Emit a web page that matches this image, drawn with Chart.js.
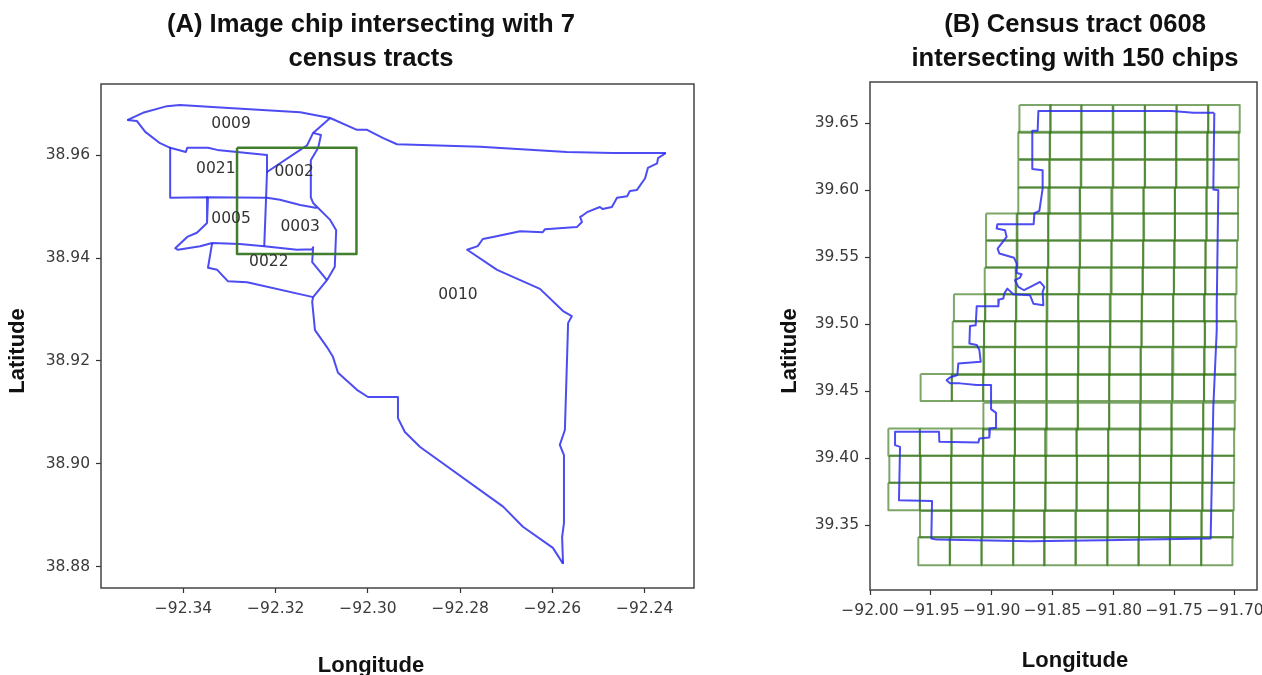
<!DOCTYPE html>
<html>
<head>
<meta charset="utf-8">
<title>Census tracts and image chips</title>
<script src="https://cdn.jsdelivr.net/npm/chart.js@4"></script>
<style>
  html, body { margin: 0; padding: 0; background: #fff; overflow: hidden; }
  .panel { position: absolute; top: 0; height: 675px; filter: blur(0.4px); }
  #panelA { left: 0; width: 735px; }
  #panelB { left: 735px; width: 527px; }
</style>
</head>
<body>
<div class="panel" id="panelA"><canvas id="chartA"></canvas></div>
<div class="panel" id="panelB"><canvas id="chartB"></canvas></div>
<script>
// Panel A: tract boundaries as [lon, lat]
const topEdge = [[-92.3522,38.9668],[-92.3488,38.9682],[-92.3436,38.9695],[-92.3408,38.9697],[-92.3293,38.9691],[-92.3147,38.9683],[-92.3082,38.9672],[-92.3024,38.9649],[-92.3002,38.9649],[-92.2967,38.9633],[-92.2937,38.9621],[-92.2757,38.9616],[-92.2569,38.9606],[-92.2469,38.9604],[-92.2354,38.9604]];
const eastCoast = [[-92.2354,38.9604],[-92.2371,38.9594],[-92.2373,38.9584],[-92.2393,38.9575],[-92.2399,38.9555],[-92.2417,38.9532],[-92.2432,38.9530],[-92.2438,38.9520],[-92.2460,38.9517],[-92.2471,38.9499],[-92.2491,38.9495],[-92.2497,38.9499],[-92.2525,38.9489],[-92.2534,38.9483],[-92.2540,38.9480],[-92.2536,38.9470],[-92.2547,38.9460],[-92.2616,38.9456],[-92.2621,38.9450],[-92.2670,38.9452],[-92.2729,38.9441],[-92.2751,38.9437],[-92.2762,38.9423],[-92.2785,38.9416],[-92.2720,38.9377],[-92.2627,38.9340],[-92.2577,38.9297],[-92.2558,38.9287],[-92.2566,38.9274],[-92.2573,38.9066],[-92.2584,38.9037],[-92.2575,38.9017],[-92.2575,38.8885],[-92.2579,38.8858],[-92.2577,38.8806]];
const southEdge = [[-92.2577,38.8806],[-92.2599,38.8837],[-92.2664,38.8878],[-92.2707,38.8917],[-92.2887,38.9033],[-92.2920,38.9062],[-92.2935,38.9089],[-92.2935,38.9130],[-92.3000,38.9130],[-92.3024,38.9144],[-92.3065,38.9177],[-92.3076,38.9208],[-92.3089,38.9227],[-92.3115,38.9260],[-92.3121,38.9315],[-92.3119,38.9324]];
const westOf0010 = [[-92.3119,38.9324],[-92.3089,38.9357],[-92.3072,38.9383],[-92.3069,38.9454],[-92.3082,38.9474],[-92.3119,38.9507],[-92.3124,38.9518],[-92.3124,38.9590],[-92.3108,38.9614],[-92.3102,38.9639],[-92.3119,38.9643],[-92.3132,38.9619],[-92.3147,38.9610],[-92.3219,38.9567]];
const northLink = [[-92.3082,38.9672],[-92.3119,38.9643]];
const south0009 = [[-92.3522,38.9668],[-92.3501,38.9666],[-92.3483,38.9645],[-92.3451,38.9623],[-92.3429,38.9614],[-92.3395,38.9606],[-92.3392,38.9614],[-92.3347,38.9614],[-92.3327,38.9610],[-92.3284,38.9606],[-92.3219,38.9600],[-92.3219,38.9567]];
const edge0021 = [[-92.3429,38.9614],[-92.3429,38.9517],[-92.3349,38.9518],[-92.3219,38.9517],[-92.3191,38.9513],[-92.3147,38.9503],[-92.3111,38.9497]];
const centerLine = [[-92.3219,38.9567],[-92.3221,38.9517],[-92.3225,38.9423]];
const edge0005 = [[-92.3347,38.9518],[-92.3349,38.9468],[-92.3371,38.9449],[-92.3392,38.9441],[-92.3418,38.9419],[-92.3412,38.9416],[-92.3364,38.9423],[-92.3338,38.9429],[-92.3278,38.9427],[-92.3225,38.9423],[-92.3154,38.9416],[-92.3121,38.9417],[-92.3119,38.9421],[-92.3121,38.9392],[-92.3089,38.9357]];
const edge0022 = [[-92.3338,38.9429],[-92.3347,38.9381],[-92.3327,38.9377],[-92.3304,38.9355],[-92.3262,38.9353],[-92.3119,38.9324]];
const tractLinesA = [topEdge, eastCoast, southEdge, westOf0010, northLink, south0009, edge0021, centerLine, edge0005, edge0022];

const chipA = [[-92.3284,38.9614],[-92.3025,38.9614],[-92.3025,38.9408],[-92.3284,38.9408],[-92.3284,38.9614]];

const tractNames = ["0009", "0021", "0002", "0005", "0003", "0022", "0010"];
const tractNameLon = [-92.3297, -92.3330, -92.3160, -92.3297, -92.3147, -92.3215, -92.2805];
const tractNameLat = [38.9660, 38.9573, 38.9567, 38.9476, 38.9460, 38.9392, 38.9328];

const xTicksA = [-92.34, -92.32, -92.30, -92.28, -92.26, -92.24];
const yTicksA = [38.88, 38.90, 38.92, 38.94, 38.96];

// Panel B: tract 0608 boundary
const tract0608 = [[-91.7172,39.6577],[-91.7342,39.6577],[-91.7520,39.6589],[-91.7972,39.6589],[-91.8616,39.6589],[-91.8622,39.6442],[-91.8666,39.6442],[-91.8666,39.6156],[-91.8581,39.6148],[-91.8581,39.6011],[-91.8608,39.5845],[-91.8649,39.5825],[-91.8655,39.5745],[-91.8953,39.5745],[-91.8959,39.5713],[-91.8890,39.5700],[-91.8877,39.5650],[-91.8951,39.5563],[-91.8937,39.5526],[-91.8816,39.5494],[-91.8794,39.5451],[-91.8794,39.5381],[-91.8753,39.5372],[-91.8767,39.5347],[-91.8808,39.5327],[-91.8781,39.5277],[-91.8734,39.5252],[-91.8657,39.5289],[-91.8603,39.5314],[-91.8567,39.5277],[-91.8581,39.5240],[-91.8575,39.5140],[-91.8657,39.5152],[-91.8685,39.5215],[-91.8822,39.5222],[-91.8871,39.5264],[-91.8896,39.5227],[-91.8904,39.5190],[-91.8940,39.5182],[-91.8945,39.5132],[-91.9123,39.5132],[-91.9131,39.4991],[-91.9178,39.4986],[-91.9183,39.4855],[-91.9123,39.4843],[-91.9101,39.4806],[-91.9090,39.4718],[-91.9274,39.4706],[-91.9282,39.4619],[-91.9342,39.4601],[-91.9370,39.4581],[-91.9342,39.4557],[-91.9260,39.4557],[-91.9123,39.4544],[-91.9005,39.4544],[-91.9005,39.4365],[-91.8964,39.4337],[-91.8964,39.4225],[-91.9014,39.4220],[-91.9019,39.4153],[-91.9101,39.4146],[-91.9109,39.4116],[-91.9430,39.4121],[-91.9433,39.4196],[-91.9794,39.4196],[-91.9794,39.4096],[-91.9753,39.4083],[-91.9762,39.3685],[-91.9490,39.3680],[-91.9496,39.3399],[-91.9452,39.3391],[-91.8685,39.3379],[-91.8082,39.3386],[-91.7200,39.3399],[-91.7178,39.4382],[-91.7150,39.4955],[-91.7150,39.5127],[-91.7137,39.5999],[-91.7178,39.6004],[-91.7170,39.6577]];

// West edge of each chip, one row per line, north to south
const chipWest = [
  [-91.8772,-91.8520,-91.8263,-91.8000,-91.7739,-91.7479,-91.7219],
  [-91.8781,-91.8520,-91.8263,-91.8000,-91.7739,-91.7485,-91.7227],
  [-91.8781,-91.8526,-91.8263,-91.8000,-91.7739,-91.7485,-91.7227],
  [-91.8781,-91.8534,-91.8274,-91.8008,-91.7753,-91.7493,-91.7233],
  [-91.9046,-91.8794,-91.8534,-91.8268,-91.8005,-91.7753,-91.7493,-91.7233],
  [-91.9046,-91.8794,-91.8534,-91.8274,-91.8014,-91.7753,-91.7501,-91.7241],
  [-91.9057,-91.8803,-91.8542,-91.8279,-91.8014,-91.7761,-91.7501,-91.7246],
  [-91.9310,-91.9055,-91.8800,-91.8548,-91.8287,-91.8022,-91.7767,-91.7507,-91.7255],
  [-91.9320,-91.9063,-91.8808,-91.8548,-91.8282,-91.8027,-91.7767,-91.7507,-91.7246],
  [-91.9320,-91.9068,-91.8808,-91.8548,-91.8287,-91.8033,-91.7775,-91.7507,-91.7255],
  [-91.9584,-91.9329,-91.9068,-91.8808,-91.8548,-91.8293,-91.8033,-91.7775,-91.7512,-91.7255],
  [-91.9068,-91.8808,-91.8548,-91.8293,-91.8033,-91.7781,-91.7520,-91.7260],
  [-91.9849,-91.9589,-91.9329,-91.9068,-91.8808,-91.8561,-91.8301,-91.8041,-91.7781,-91.7520,-91.7265],
  [-91.9841,-91.9589,-91.9334,-91.9074,-91.8814,-91.8556,-91.8301,-91.8041,-91.7781,-91.7526,-91.7265],
  [-91.9849,-91.9589,-91.9334,-91.9074,-91.8814,-91.8561,-91.8301,-91.8046,-91.7786,-91.7526,-91.7268],
  [-91.9589,-91.9334,-91.9077,-91.8822,-91.8570,-91.8307,-91.8046,-91.7789,-91.7534,-91.7274],
  [-91.9603,-91.9342,-91.9082,-91.8822,-91.8570,-91.8307,-91.8049,-91.7794,-91.7534,-91.7279]
];
const chipNorth = [39.6634,39.6435,39.6223,39.6019,39.5825,39.5621,39.5421,39.5222,39.5020,39.4826,39.4626,39.4412,39.4220,39.4016,39.3815,39.3605,39.3411];
const chipSouth = [39.6427,39.6231,39.6019,39.5825,39.5625,39.5421,39.5222,39.5020,39.4830,39.4619,39.4425,39.4213,39.4016,39.3815,39.3610,39.3406,39.3200];
const chipLonWidth = 0.0258;

const xTicksB = [-92.00, -91.95, -91.90, -91.85, -91.80, -91.75, -91.70];
const yTicksB = [39.35, 39.40, 39.45, 39.50, 39.55, 39.60, 39.65];

const titleA = ["(A) Image chip intersecting with 7", "census tracts"];
const titleB = ["(B) Census tract 0608", "intersecting with 150 chips"];
const xLabel = "Longitude";
const yLabel = "Latitude";

const BLUE = "rgba(45,45,240,0.85)";
const GREEN = "rgba(55,120,25,0.65)";
const TICK_COLOR = "#3a3a3a";
const minus = "\u2212";

function toPoints(line) {
  return line.map(p => ({ x: p[0], y: p[1] }));
}

function lineSet(line, color, width) {
  return {
    data: toPoints(line),
    showLine: true,
    borderColor: color,
    borderWidth: width,
    pointRadius: 0,
    tension: 0,
    borderJoinStyle: "round"
  };
}

function axis(min, max, ticks, size, isX) {
  return {
    type: "linear",
    min: min,
    max: max,
    afterBuildTicks: s => { s.ticks = ticks.map(v => ({ value: v })); },
    afterFit: s => {
      if (isX) s.height = size; else s.width = size;
      // the outer tick labels may hang past the plot, keep the frame where it is
      s.paddingLeft = s.paddingRight = s.paddingTop = s.paddingBottom = 0;
    },
    grid: { drawOnChartArea: false, tickLength: 5, tickColor: "#333", tickWidth: 1.2 },
    border: { display: false },
    ticks: {
      autoSkip: false,
      maxRotation: 0,
      padding: isX ? 7 : 6,
      color: TICK_COLOR,
      font: { family: "DejaVu Sans", size: 15.5 },
      callback: v => (v < 0 ? minus + Math.abs(v).toFixed(2) : v.toFixed(2))
    }
  };
}

// frame, titles and axis names
function panelText(title, titleX, titleY, xLabelX, xLabelY, yLabelX, yLabelY) {
  return {
    id: "panelText",
    afterDraw(chart) {
      const c = chart.ctx, a = chart.chartArea;
      c.save();
      c.strokeStyle = "#444";
      c.lineWidth = 1.5;
      c.strokeRect(a.left, a.top, a.right - a.left, a.bottom - a.top);
      c.fillStyle = "#111";
      c.textAlign = "center";
      c.textBaseline = "middle";
      c.font = "bold 25.6px 'Liberation Sans'";
      title.forEach((t, i) => c.fillText(t, titleX, titleY + i * 34));
      c.font = "bold 22px 'Liberation Sans'";
      c.fillText(xLabel, xLabelX, xLabelY);
      c.translate(yLabelX, yLabelY);
      c.rotate(-Math.PI / 2);
      c.fillText(yLabel, 0, 0);
      c.restore();
    }
  };
}

const tractNamePlugin = {
  id: "tractNames",
  afterDatasetsDraw(chart) {
    const c = chart.ctx;
    c.save();
    c.fillStyle = "#333";
    c.font = "15.5px 'DejaVu Sans'";
    c.textAlign = "center";
    c.textBaseline = "middle";
    tractNames.forEach((n, i) => {
      c.fillText(n, chart.scales.x.getPixelForValue(tractNameLon[i]), chart.scales.y.getPixelForValue(tractNameLat[i]));
    });
    c.restore();
  }
};

function baseOptions(x, y, right, top) {
  return {
    responsive: true,
    maintainAspectRatio: false,
    animation: false,
    layout: { padding: { left: 0, right: right, top: top, bottom: 0 } },
    plugins: { legend: { display: false }, tooltip: { enabled: false } },
    scales: { x: x, y: y }
  };
}

new Chart(document.getElementById("chartA"), {
  type: "scatter",
  data: {
    datasets: [lineSet(chipA, "rgba(55,120,35,0.95)", 2.5)].concat(tractLinesA.map(l => lineSet(l, BLUE, 2)))
  },
  options: baseOptions(
    axis(-92.3579, -92.2293, xTicksA, 87, true),
    axis(38.8759, 38.9738, yTicksA, 101, false),
    41, 84
  ),
  plugins: [tractNamePlugin, panelText(titleA, 371, 25, 371, 666, 18, 351)]
});

// one closed rectangle per chip
const chipSets = [];
chipWest.forEach((row, r) => {
  row.forEach(west => {
    const east = west + chipLonWidth;
    chipSets.push(lineSet([[west, chipNorth[r]], [east, chipNorth[r]], [east, chipSouth[r]], [west, chipSouth[r]], [west, chipNorth[r]]], GREEN, 2));
  });
});

new Chart(document.getElementById("chartB"), {
  type: "scatter",
  data: {
    datasets: [lineSet(tract0608, BLUE, 2)].concat(chipSets)
  },
  options: baseOptions(
    axis(-92.0, -91.6819, xTicksB, 85, true),
    axis(39.3015, 39.6806, yTicksB, 135, false),
    5, 82
  ),
  plugins: [panelText(titleB, 340, 25, 340, 661, 55, 351)]
});
</script>
</body>
</html>
